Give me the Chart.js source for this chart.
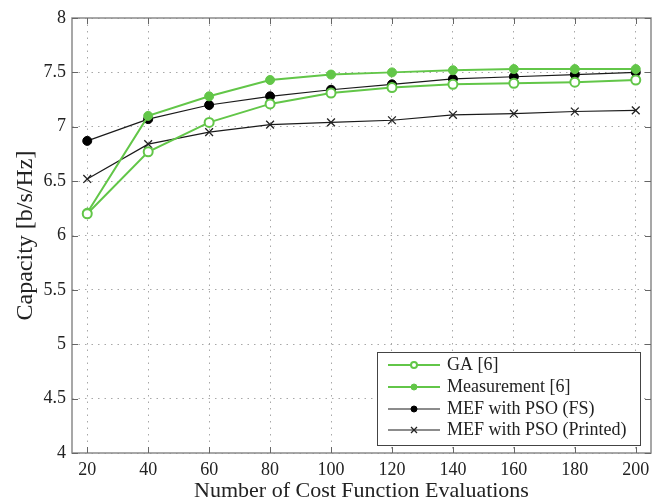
<!DOCTYPE html>
<html>
<head>
<meta charset="utf-8">
<script src="https://cdn.jsdelivr.net/npm/chart.js@4/dist/chart.umd.min.js"></script>
<style>
html,body{margin:0;padding:0;background:#fff;}
#wrap{width:660px;height:504px;position:relative;}
</style>
</head>
<body>
<div id="wrap"><canvas id="c" width="660" height="504"></canvas></div>
<script>
const evaluations = [20, 40, 60, 80, 100, 120, 140, 160, 180, 200];
const gaValues = [6.20, 6.77, 7.04, 7.21, 7.31, 7.36, 7.39, 7.40, 7.41, 7.43];
const measurementValues = [6.21, 7.10, 7.28, 7.43, 7.48, 7.50, 7.52, 7.53, 7.53, 7.53];
const psoFsValues = [6.87, 7.07, 7.20, 7.28, 7.34, 7.39, 7.44, 7.46, 7.48, 7.50];
const psoPrintedValues = [6.52, 6.84, 6.95, 7.02, 7.04, 7.06, 7.11, 7.12, 7.14, 7.15];
const seriesLabels = ['GA [6]', 'Measurement [6]', 'MEF with PSO (FS)', 'MEF with PSO (Printed)'];
const xTicks = [20, 40, 60, 80, 100, 120, 140, 160, 180, 200];
const yTicks = [4, 4.5, 5, 5.5, 6, 6.5, 7, 7.5, 8];

const GREEN = 'rgb(98,198,72)';
const DARK = '#1a1a1a';
const FONT = "'Liberation Serif', 'DejaVu Serif', serif";

function pts(vals) { return evaluations.map((x, i) => ({x: x, y: vals[i]})); }

const datasets = [
  {label: seriesLabels[0], data: pts(gaValues), borderColor: GREEN, backgroundColor: '#fff',
   borderWidth: 2, pointStyle: 'circle', pointRadius: 4.5, pointBorderWidth: 2, pointBorderColor: GREEN, pointBackgroundColor: '#fff'},
  {label: seriesLabels[1], data: pts(measurementValues), borderColor: GREEN, backgroundColor: GREEN,
   borderWidth: 2, pointStyle: 'circle', pointRadius: 4.5, pointBorderWidth: 1, pointBorderColor: GREEN, pointBackgroundColor: GREEN},
  {label: seriesLabels[2], data: pts(psoFsValues), borderColor: DARK, backgroundColor: DARK,
   borderWidth: 1.2, pointStyle: 'circle', pointRadius: 4.5, pointBorderWidth: 1, pointBorderColor: '#000', pointBackgroundColor: '#000'},
  {label: seriesLabels[3], data: pts(psoPrintedValues), borderColor: DARK, backgroundColor: DARK,
   borderWidth: 1.2, pointStyle: 'crossRot', pointRadius: 5.5, pointBorderWidth: 1.3, pointBorderColor: '#222', pointBackgroundColor: '#222'}
];

const framePlugin = {
  id: 'frame',
  afterDraw(chart) {
    const ctx = chart.ctx, a = chart.chartArea;
    const xs = chart.scales.x, ys = chart.scales.y;
    ctx.save();
    ctx.strokeStyle = '#8a8a8a';
    ctx.lineWidth = 1.5;
    ctx.strokeRect(a.left, a.top, a.right - a.left, a.bottom - a.top);
    ctx.lineWidth = 1;
    ctx.strokeStyle = '#666';
    ctx.beginPath();
    xs.ticks.forEach(t => {
      const px = Math.round(xs.getPixelForValue(t.value)) + 0.5;
      ctx.moveTo(px, a.bottom); ctx.lineTo(px, a.bottom - 6);
      ctx.moveTo(px, a.top); ctx.lineTo(px, a.top + 6);
    });
    ys.ticks.forEach(t => {
      const py = Math.round(ys.getPixelForValue(t.value)) + 0.5;
      ctx.moveTo(a.left, py); ctx.lineTo(a.left + 6, py);
      ctx.moveTo(a.right, py); ctx.lineTo(a.right - 6, py);
    });
    ctx.stroke();

    // legend box
    const bx = 377, by = 352, bw = 263, bh = 93;
    ctx.fillStyle = '#fff';
    ctx.fillRect(bx, by, bw, bh);
    ctx.strokeStyle = '#444';
    ctx.lineWidth = 1;
    ctx.strokeRect(bx + 0.5, by + 0.5, bw, bh);
    const rowY = [365, 387, 409, 430];
    ctx.font = "18px " + FONT;
    ctx.textBaseline = 'middle';
    ctx.textAlign = 'left';
    chart.data.datasets.forEach((ds, i) => {
      const y = rowY[i];
      ctx.strokeStyle = ds.borderColor;
      ctx.lineWidth = ds.borderWidth;
      ctx.beginPath();
      ctx.moveTo(388, y); ctx.lineTo(440, y);
      ctx.stroke();
      ctx.save();
      ctx.fillStyle = ds.pointBackgroundColor;
      ctx.strokeStyle = ds.pointBorderColor;
      ctx.lineWidth = ds.pointBorderWidth;
      ctx.beginPath();
      if (ds.pointStyle === 'crossRot') {
        ctx.moveTo(411, y - 3); ctx.lineTo(417, y + 3);
        ctx.moveTo(411, y + 3); ctx.lineTo(417, y - 3);
        ctx.stroke();
      } else {
        ctx.arc(414, y, 3, 0, Math.PI * 2);
        ctx.fill(); ctx.stroke();
      }
      ctx.restore();
      ctx.fillStyle = '#222';
      ctx.fillText(ds.label, 447, y);
    });
    ctx.restore();
  }
};

new Chart(document.getElementById('c'), {
  type: 'line',
  data: {datasets: datasets},
  plugins: [framePlugin],
  options: {
    responsive: false,
    animation: false,
    layout: {padding: {left: 0, right: 9, top: 18, bottom: 0}},
    plugins: {legend: {display: false}, tooltip: {enabled: false}},
    elements: {line: {tension: 0}},
    scales: {
      x: {
        type: 'linear', min: 15, max: 205,
        afterBuildTicks(scale) { scale.ticks = xTicks.map(v => ({value: v})); },
        afterFit(scale) { scale.height = 51; },
        grid: {color: '#a8a8a8', lineWidth: 1, drawTicks: false},
        border: {display: false, dash: [1.5, 5]},
        ticks: {padding: 6, color: '#222', font: {family: FONT, size: 18}, maxRotation: 0,
                callback: v => String(v)},
        title: {display: true, text: 'Number of Cost Function Evaluations', color: '#222',
                font: {family: FONT, size: 22}, padding: {top: 0, bottom: 0}}
      },
      y: {
        type: 'linear', min: 4, max: 8,
        afterBuildTicks(scale) { scale.ticks = yTicks.map(v => ({value: v})); },
        afterFit(scale) { scale.width = 72; },
        grid: {color: '#a8a8a8', lineWidth: 1, drawTicks: false},
        border: {display: false, dash: [1.5, 5]},
        ticks: {padding: 6, color: '#222', font: {family: FONT, size: 18},
                callback: v => String(v)},
        title: {display: true, text: 'Capacity [b/s/Hz]', color: '#222',
                font: {family: FONT, size: 24}, padding: {top: 11, bottom: 0}}
      }
    }
  }
});
</script>
</body>
</html>
